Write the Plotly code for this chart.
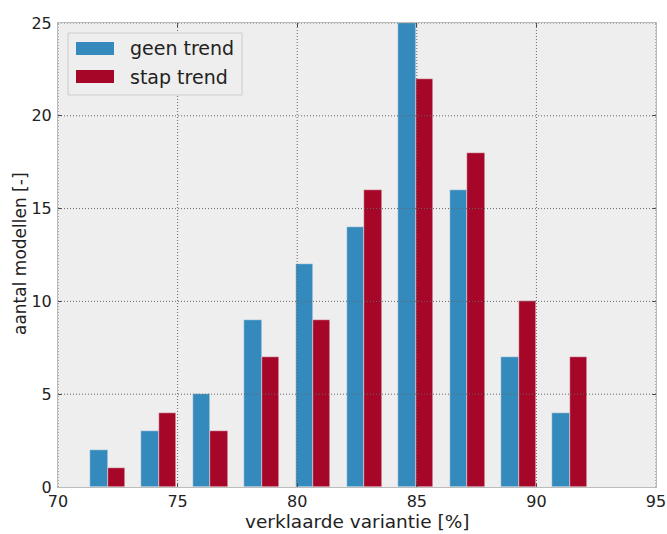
import plotly.graph_objects as go

# Histogram of explained variance per model, two trend variants
bin_centers = [72.07, 74.22, 76.37, 78.52, 80.66, 82.81, 84.96, 87.11, 89.26, 91.40]
geen_trend = [2, 3, 5, 9, 12, 14, 25, 16, 7, 4]
stap_trend = [1, 4, 3, 7, 9, 16, 22, 18, 10, 7]

series_names = ["geen trend", "stap trend"]
series_colors = ["#348ABD", "#A60628"]

x_ticks = [70, 75, 80, 85, 90, 95]
y_ticks = [0, 5, 10, 15, 20, 25]

bar_w = 0.73
font_family = "DejaVu Sans"
text_color = "#222222"

fig = go.Figure()
for vals, name, color, off in [
    (geen_trend, series_names[0], series_colors[0], -bar_w),
    (stap_trend, series_names[1], series_colors[1], 0.0),
]:
    fig.add_trace(go.Bar(
        x=bin_centers, y=vals, name=name,
        width=bar_w, offset=off,
        marker=dict(color=color, line=dict(color="#eeeeee", width=0.5)),
        showlegend=False,
    ))

grid_line = dict(color="#666666", width=1, dash="1px,2px")
shapes = []
# dotted grid drawn over the bars
for xv in x_ticks:
    shapes.append(dict(type="line", xref="x", yref="paper", x0=xv, x1=xv, y0=0, y1=1,
                       line=grid_line, layer="above"))
for yv in y_ticks[1:]:
    shapes.append(dict(type="line", xref="paper", yref="y", x0=0, x1=1, y0=yv, y1=yv,
                       line=grid_line, layer="above"))

# legend box with wide colour patches
W, H = 667, 534
ml, mr, mt, mb = 58, 11, 23, 47
pw, ph = W - ml - mr, H - mt - mb


def px(xp):
    return (xp - ml) / pw


def py(yp):
    return 1 - (yp - mt) / ph


shapes.append(dict(type="rect", xref="paper", yref="paper",
                   x0=px(68), x1=px(242), y0=py(95), y1=py(33),
                   fillcolor="#eeeeee", line=dict(color="#cccccc", width=1), layer="above"))
annotations = []
for i, (name, color) in enumerate(zip(series_names, series_colors)):
    yc = 48.5 + i * 28
    shapes.append(dict(type="rect", xref="paper", yref="paper",
                       x0=px(76), x1=px(114), y0=py(yc + 6.5), y1=py(yc - 6.5),
                       fillcolor=color, line=dict(width=0), layer="above"))
    annotations.append(dict(text=name, xref="paper", yref="paper", x=px(128), y=py(yc),
                            xanchor="left", yanchor="middle", showarrow=False,
                            font=dict(family=font_family, size=19, color=text_color)))

# axis titles
annotations.append(dict(text="verklaarde variantie [%]", xref="paper", yref="paper",
                        x=px(357), y=py(521.5), xanchor="center", yanchor="middle",
                        showarrow=False, borderpad=0,
                        font=dict(family=font_family, size=18.5, color=text_color)))
annotations.append(dict(text="aantal modellen [-]", xref="paper", yref="paper",
                        x=px(20), y=py(254), xanchor="center", yanchor="middle",
                        textangle=-90, showarrow=False,
                        font=dict(family=font_family, size=17, color=text_color)))

axis_common = dict(
    showgrid=False, zeroline=False, automargin=False,
    showline=True, linecolor="#bcbcbc", linewidth=1, mirror="ticks",
    ticks="inside", ticklen=4, tickcolor="#444444",
    tickfont=dict(size=16, color=text_color),
)

fig.update_layout(
    width=W, height=H,
    margin=dict(l=ml, r=mr, t=mt, b=mb, pad=0),
    paper_bgcolor="white", plot_bgcolor="#eeeeee",
    barmode="overlay", bargap=0,
    font=dict(family=font_family, color=text_color),
    shapes=shapes, annotations=annotations,
    xaxis=dict(range=[70, 95], tickvals=x_ticks, ticktext=[str(v) for v in x_ticks],
               **axis_common),
    yaxis=dict(range=[0, 25], tickvals=y_ticks, ticktext=[str(v) for v in y_ticks],
               ticklabelstandoff=2, **axis_common),
)

fig.write_html("out.html")
